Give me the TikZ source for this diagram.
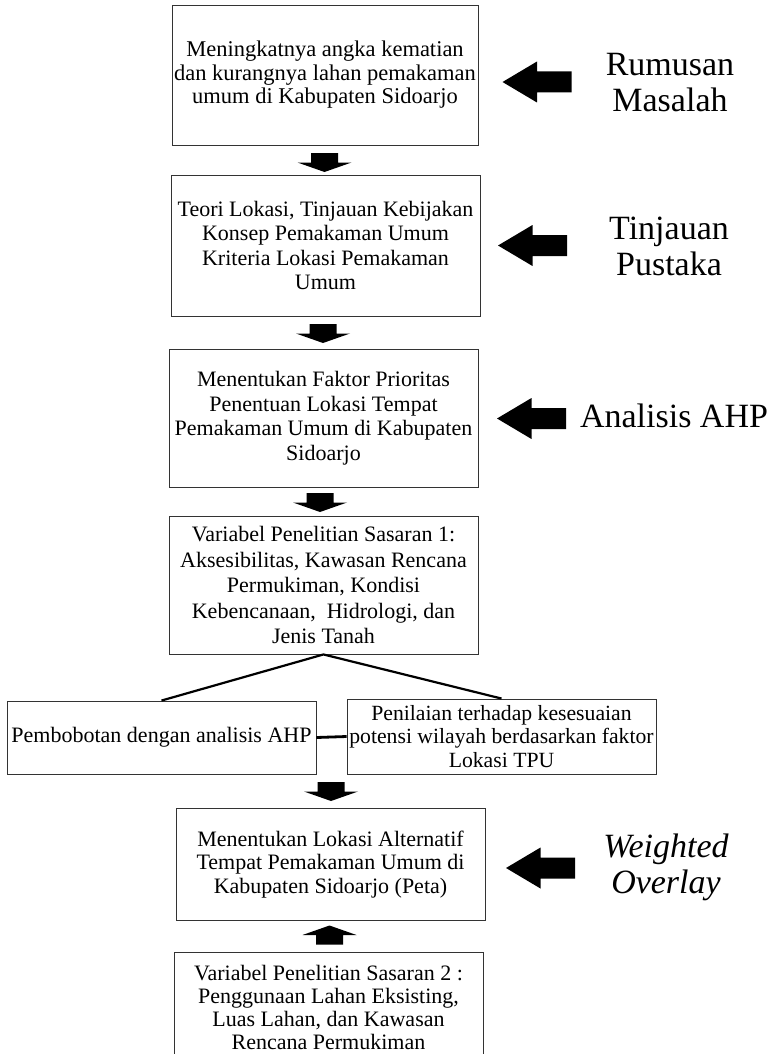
\documentclass[tikz,border=0pt]{standalone}
\usepackage{fontspec}
\setmainfont{Liberation Serif}
\tikzset{
	kotak/.style={draw=black!80, line width=0.9pt, align=center, inner sep=1pt, minimum width=309pt, font=\fontsize{22}{24.5}\selectfont},
	judul/.style={align=center, inner sep=0pt, font=\fontsize{34}{36}\selectfont},
	garis/.style={draw=black, line width=2.2pt},
	panahkiri/.pic={\fill[black] (-34.5,0) -- (0,-20.5) -- (0,-10.5) -- (34.5,-10.5) -- (34.5,10.5) -- (0,10.5) -- (0,20.5) -- cycle;},
	panahbawah/.pic={\fill[black] (-13.5,-9.5) -- (13.5,-9.5) -- (13.5,0) -- (27,0) -- (0,9.5) -- (-27,0) -- (-13.5,0) -- cycle;}
}
\begin{document}
\begin{tikzpicture}[x=1pt,y=-1pt]

	\clip (0,0) rectangle (781,1054);

	%KOTAK
	\node[kotak, minimum width=306pt, minimum height=140pt, font=\fontsize{22.5}{23.5}\selectfont] (masalah) at (325,75) {Meningkatnya angka kematian\\dan kurangnya lahan pemakaman\\umum di Kabupaten Sidoarjo};
	\node[kotak, minimum height=141pt] (pustaka) at (325.5,245.5) {Teori Lokasi, Tinjauan Kebijakan\\Konsep Pemakaman Umum\\Kriteria Lokasi Pemakaman\\Umum};
	\node[kotak, minimum height=138pt] (ahp) at (323.5,418) {Menentukan Faktor Prioritas\\Penentuan Lokasi Tempat\\Pemakaman Umum di Kabupaten\\Sidoarjo};
	\node[kotak, minimum height=138pt, font=\fontsize{22}{25.5}\selectfont] (sasaran1) at (323.5,585) {Variabel Penelitian Sasaran 1:\\Aksesibilitas, Kawasan Rencana\\Permukiman, Kondisi\\Kebencanaan,~ Hidrologi, dan\\Jenis Tanah};
	\node[kotak, minimum height=73pt] (bobot) at (161.5,737.5) {Pembobotan dengan analisis AHP};
	\node[kotak, minimum height=75pt, inner sep=0pt, font=\fontsize{21.7}{23.5}\selectfont] (nilai) at (501.5,736.5) {Penilaian terhadap kesesuaian\\potensi wilayah berdasarkan faktor\\Lokasi TPU};
	\node[kotak, minimum height=112pt, font=\fontsize{22}{23.5}\selectfont] (alternatif) at (330.5,864.5) {Menentukan Lokasi Alternatif\\Tempat Pemakaman Umum di\\Kabupaten Sidoarjo (Peta)};
	\node[kotak, minimum height=110pt, font=\fontsize{22}{23}\selectfont] (sasaran2) at (328.5,1007) {Variabel Penelitian Sasaran 2 :\\Penggunaan Lahan Eksisting,\\Luas Lahan, dan Kawasan\\Rencana Permukiman};

	%CABANG
	\draw[garis] (bobot.north) -- (sasaran1.south) -- (nilai.north);
	\draw[draw=black, line width=2.8pt] (bobot.east) -- (nilai.west);

	%PANAH BAWAH
	\pic at (324.5,162.5) {panahbawah};
	\pic at (323,333.5) {panahbawah};
	\pic at (320,502.5) {panahbawah};
	\pic at (331,791.5) {panahbawah};
	\pic[rotate=180] at (329.5,935) {panahbawah};

	%PANAH KIRI
	\pic at (537,82) {panahkiri};
	\pic at (532.5,245.5) {panahkiri};
	\pic at (531.5,418.5) {panahkiri};
	\pic at (540.5,868) {panahkiri};

	%JUDUL
	\node[judul] (tRumusan) at (670,83) {Rumusan\\Masalah};
	\node[judul] (tPustaka) at (669,246) {Tinjauan\\Pustaka};
	\node[judul] (tAhp) at (674,416) {Analisis AHP};
	\node[judul, font=\fontsize{34}{36}\selectfont\itshape] (tOverlay) at (666,867) {Weighted\\Overlay};

\end{tikzpicture}
\end{document}
